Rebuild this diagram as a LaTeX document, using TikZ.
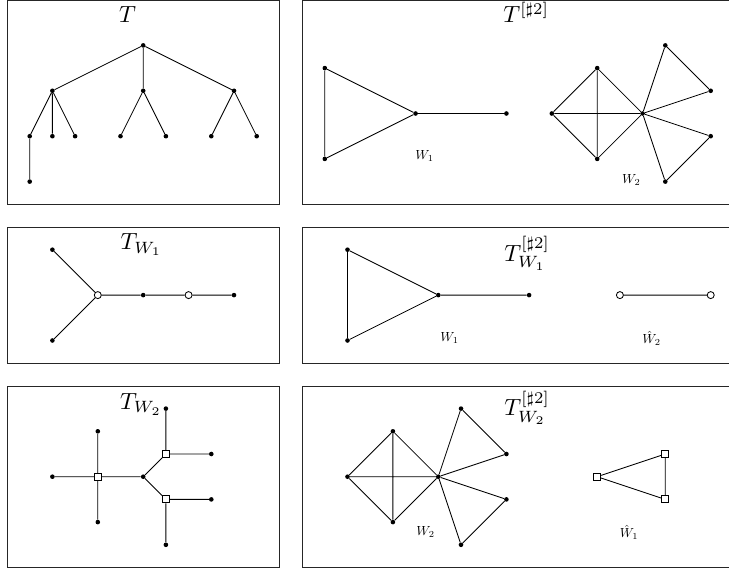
\documentclass[tikz,border=0pt]{standalone}
\usepackage{graphicx}
\newcommand{\bigttl}[1]{\scalebox{2.34}{#1}}
\newcommand{\smlab}[1]{\scalebox{1.32}{#1}}
\begin{document}
\begin{tikzpicture}[x=22.7pt,y=-22.7pt,
  panel/.style={draw=black!85,line width=0.8pt},
  edge/.style={draw,line width=0.85pt},
  dot/.style={circle,fill=black,inner sep=0pt,minimum size=4.6pt},
  odot/.style={circle,draw,fill=white,line width=0.85pt,inner sep=0pt,minimum size=7pt},
  sq/.style={rectangle,draw,fill=white,line width=0.85pt,inner sep=0pt,minimum size=7pt},
  title/.style={anchor=base west,inner sep=0pt},
  lab/.style={inner sep=0pt}]
\useasboundingbox (-0.3084,0) rectangle (31.806,25.33);
% panels
\draw[panel] (0,0) rectangle (12,9);
\draw[panel] (13,0) rectangle (33,9);
\draw[panel] (0,10) rectangle (12,16);
\draw[panel] (13,10) rectangle (33,16);
\draw[panel] (0,17) rectangle (12,25);
\draw[panel] (13,17) rectangle (33,25);
% titles
\node[title] (t1) at (4.93,1.0) {\bigttl{$T$}};
\node[title] (t2) at (21.86,1.0) {\bigttl{$T^{[\sharp 2]}$}};
\node[title] (t3) at (5.0,11.0) {\bigttl{$T_{W_1}$}};
\node[title] (t4) at (21.9,11.5) {\bigttl{$T^{[\sharp 2]}_{W_1}$}};
\node[title] (t5) at (4.98,18.03) {\bigttl{$T_{W_2}$}};
\node[title] (t6) at (21.9,18.3) {\bigttl{$T^{[\sharp 2]}_{W_2}$}};
% labels
\node[lab] (l1) at (18.4,6.86) {\smlab{$W_1$}};
\node[lab] (l2) at (27.5,7.93) {\smlab{$W_2$}};
\node[lab] (l3) at (19.5,14.9) {\smlab{$W_1$}};
\node[lab] (l4) at (28.4,14.9) {\smlab{$\hat{W}_2$}};
\node[lab] (l5) at (18.44,23.45) {\smlab{$W_2$}};
\node[lab] (l6) at (27.4,23.45) {\smlab{$\hat{W}_1$}};
% panel 1: T
\node[dot] (r) at (6,2) {};
\node[dot] (a) at (2,4) {};
\node[dot] (b) at (6,4) {};
\node[dot] (c) at (10,4) {};
\node[dot] (a1) at (1,6) {};
\node[dot] (a2) at (2,6) {};
\node[dot] (a3) at (3,6) {};
\node[dot] (b1) at (5,6) {};
\node[dot] (b2) at (7,6) {};
\node[dot] (c1) at (9,6) {};
\node[dot] (c2) at (11,6) {};
\node[dot] (d) at (1,8) {};
\path[edge] (r)--(a) (r)--(b) (r)--(c) (a)--(a1) (a)--(a2) (a)--(a3)
  (b)--(b1) (b)--(b2) (c)--(c1) (c)--(c2) (a1)--(d);
% panel 2
\node[dot] (p) at (14,3) {};
\node[dot] (q) at (14,7) {};
\node[dot] (s) at (18,5) {};
\node[dot] (t) at (22,5) {};
\node[dot] (k1) at (24,5) {};
\node[dot] (k2) at (26,3) {};
\node[dot] (k3) at (26,7) {};
\node[dot] (k0) at (28,5) {};
\node[dot] (m1) at (29,2) {};
\node[dot] (m2) at (31,4) {};
\node[dot] (m3) at (31,6) {};
\node[dot] (m4) at (29,8) {};
\path[edge] (p)--(q) (p)--(s) (q)--(s) (s)--(t)
  (k1)--(k2) (k1)--(k3) (k1)--(k0) (k2)--(k3) (k2)--(k0) (k3)--(k0)
  (k0)--(m1) (m1)--(m2) (m2)--(k0) (k0)--(m3) (m3)--(m4) (m4)--(k0);
% panel 3
\node[dot] (e1) at (2,11) {};
\node[dot] (e2) at (2,15) {};
\node[odot] (o1) at (4,13) {};
\node[dot] (e3) at (6,13) {};
\node[odot] (o2) at (8,13) {};
\node[dot] (e4) at (10,13) {};
\path[edge] (e1)--(o1) (e2)--(o1) (o1)--(e3) (e3)--(o2) (o2)--(e4);
% panel 4
\node[dot] (f1) at (15,11) {};
\node[dot] (f2) at (15,15) {};
\node[dot] (f3) at (19,13) {};
\node[dot] (f4) at (23,13) {};
\node[odot] (g1) at (27,13) {};
\node[odot] (g2) at (31,13) {};
\path[edge] (f1)--(f2) (f1)--(f3) (f2)--(f3) (f3)--(f4) (g1)--(g2);
% panel 5
\node[dot] (h1) at (2,21) {};
\node[sq] (sA) at (4,21) {};
\node[dot] (h2) at (4,19) {};
\node[dot] (h3) at (4,23) {};
\node[dot] (h0) at (6,21) {};
\node[sq] (sB) at (7,20) {};
\node[sq] (sC) at (7,22) {};
\node[dot] (h4) at (7,18) {};
\node[dot] (h5) at (9,20) {};
\node[dot] (h6) at (9,22) {};
\node[dot] (h7) at (7,24) {};
\path[edge] (h1)--(sA) (sA)--(h2) (sA)--(h3) (sA)--(h0) (h0)--(sB) (h0)--(sC)
  (sB)--(h4) (sB)--(h5) (sC)--(h6) (sC)--(h7);
% panel 6
\node[dot] (n1) at (15,21) {};
\node[dot] (n2) at (17,19) {};
\node[dot] (n3) at (17,23) {};
\node[dot] (n0) at (19,21) {};
\node[dot] (v1) at (20,18) {};
\node[dot] (v2) at (22,20) {};
\node[dot] (v3) at (22,22) {};
\node[dot] (v4) at (20,24) {};
\node[sq] (z1) at (26,21) {};
\node[sq] (z2) at (29,20) {};
\node[sq] (z3) at (29,22) {};
\path[edge] (n1)--(n2) (n1)--(n3) (n1)--(n0) (n2)--(n3) (n2)--(n0) (n3)--(n0)
  (n0)--(v1) (v1)--(v2) (v2)--(n0) (n0)--(v3) (v3)--(v4) (v4)--(n0)
  (z1)--(z2) (z1)--(z3) (z2)--(z3);
\end{tikzpicture}
\end{document}
